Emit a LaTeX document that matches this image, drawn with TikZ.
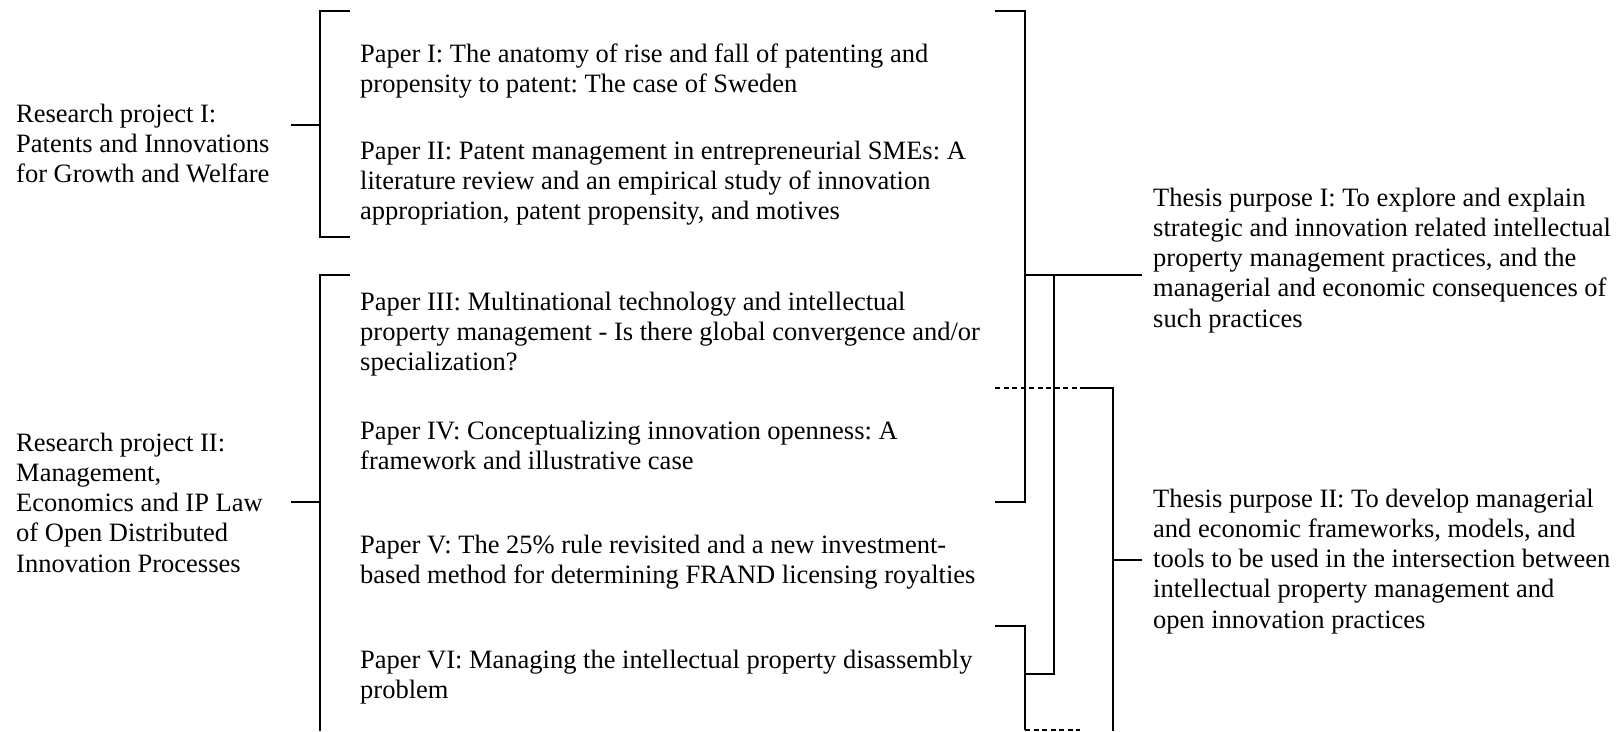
\documentclass[tikz,border=0pt]{standalone}
\usepackage{fontspec}
\setmainfont{Liberation Serif}
\usepackage{tikz}
\frenchspacing

\begin{document}
\begin{tikzpicture}[x=1pt, y=-1pt, line width=2.4pt,
  txt/.style={anchor=base west, align=left, inner sep=0pt,
    font=\fontsize{26.5}{30.3}\selectfont},
  dashline/.style={dash pattern=on 5pt off 3.5pt}]
\useasboundingbox (0,0) rectangle (1621,731);

% the two research projects (base = last line)
\node[txt] (rp1) at (15,182.6) {Research project I:\\Patents and Innovations\\for Growth and Welfare};
\node[txt] (rp2) at (15,572.2) {Research project II:\\Management,\\Economics and IP Law\\of Open Distributed\\Innovation Processes};

% papers
\node[txt] (p1) at (359,92.3) {Paper I: The anatomy of rise and fall of patenting and\\propensity to patent: The case of Sweden};
\node[txt] (p2) at (359,219.6) {Paper II: Patent management in entrepreneurial SMEs: A\\literature review and an empirical study of innovation\\appropriation, patent propensity, and motives};
\node[txt] (p3) at (359,370.6) {Paper III: Multinational technology and intellectual\\property management - Is there global convergence and/or\\specialization?};
\node[txt] (p4) at (359,469.3) {Paper IV: Conceptualizing innovation openness: A\\framework and illustrative case};
\node[txt] (p5) at (359,583.3) {Paper V: The 25\% rule revisited and a new investment-\\based method for determining FRAND licensing royalties};
\node[txt] (p6) at (359,698.3) {Paper VI: Managing the intellectual property disassembly\\problem};

% thesis purposes
\node[txt] (tp1) at (1152,327.2) {Thesis purpose I: To explore and explain\\strategic and innovation related intellectual\\property management practices, and the\\managerial and economic consequences of\\such practices};
\node[txt] (tp2) at (1152,628.2) {Thesis purpose II: To develop managerial\\and economic frameworks, models, and\\tools to be used in the intersection between\\intellectual property management and\\open innovation practices};

% brackets on the left
\draw (350,11) -- (320,11) -- (320,237) -- (350,237);
\draw (291,125) -- (320,125);
\draw (350,275) -- (320,275) -- (320,731);
\draw (291,502) -- (320,502);

% papers I-IV and VI to purpose I
\coordinate (j1) at (1025,275);
\coordinate (j2) at (1054,275);
\draw (995,11) -- (1025,11) -- (1025,502) -- (995,502);
\draw (j1) -- (1142,275);
\draw (995,626) -- (1025,626) -- (1025,730);
\draw[dashline] (1025,730) -- (1080,730);
\draw (1025,674) -- (1054,674) -- (j2);

% papers III-VI to purpose II
\draw[dashline] (995,388) -- (1083,388);
\draw (1083,388) -- (1113,388) -- (1113,731);
\draw (1113,560) -- (1142,560);
\end{tikzpicture}
\end{document}
